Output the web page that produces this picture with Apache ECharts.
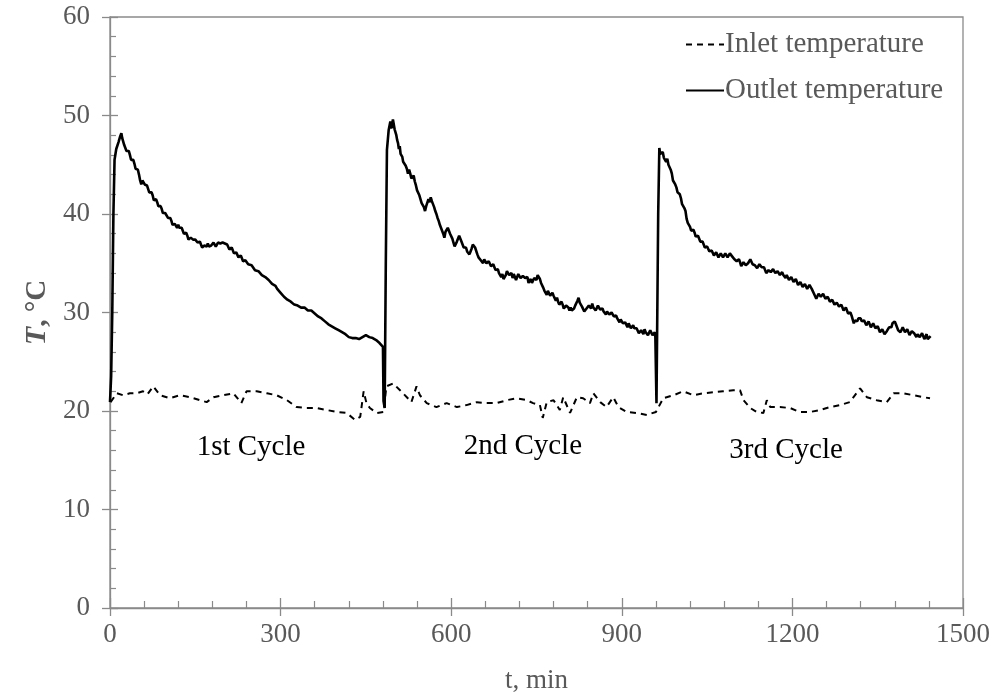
<!DOCTYPE html>
<html>
<head>
<meta charset="utf-8">
<script src="https://cdn.jsdelivr.net/npm/echarts@6/dist/echarts.min.js"></script>
<style>
html,body{margin:0;padding:0;background:#fff;}
#chart{width:999px;height:699px;}
</style>
</head>
<body>
<div id="chart"></div>
<script>
// ---- data: [time (min), temperature (°C)] ----
const outletCycle1 = [
[0,20.9],[2,23.5],[4,30],[6,40],[8,45.5],[11,46.6],[15,47.3],[18,47.9],[20,48.2],[21.5,47.7],[23,47.5],[25,47.0],[27,46.9],[29,46.4],[31,46.2],[33,46.4],[35,46.0],[37,45.5],[39,45.3],[41,45.5],[43,45.1],[45,44.6],[47,44.4],[49,44.5],[51,44.0],[53,43.4],[55,43.0],[57,43.4],[59,43.6],[61,43.0],[63,43.1],[65,42.9],[67,42.7],[69,42.2],[71,42.1],[73,42.2],[75,41.9],[77,41.4],[79,41.5],[81,41.5],[83,41.2],[85,40.8],[87,40.7],[89,40.8],[91,40.5],[93,40.1],[95,40.2],[97,40.1],[99,39.9],[102,39.6],[104,39.5],[106,39.6],[108,39.3],[110,38.9],[112,38.9],[114,39.0],[116,38.8],[118,38.6],[120,38.9],[122,38.6],[124,38.4],[126,38.6],[128,38.4],[130,38.0],[132,37.9],[134,38.1],[136,37.8],[138,37.4],[140,37.3],[142,37.6],[144,37.8],[146,37.4],[148,37.2],[150,37.4],[152,37.6],[154,37.1],[156,37.0],[158,37.2],[160,36.9],[162,36.6],[164,36.6],[166,36.8],[168,36.6],[170,36.7],[172,37.0],[174,36.7],[176,36.5],[178,36.8],[180,36.9],[182,37.1],[184,37.0],[186,36.7],[188,36.8],[190,37.1],[192,37.3],[194,37.0],[196,36.9],[198,37.1],[200,37.2],[202,37.0],[204,36.8],[206,36.9],[208,36.7],[210,36.4],[212,36.4],[214,36.6],[216,36.4],[218,36.0],[220,36.0],[222,36.1],[224,35.9],[226,35.6],[228,35.6],[230,35.8],[232,35.6],[234,35.2],[236,35.2],[238,35.3],[240,35.1],[243,34.9],[246,34.8],[249,34.8],[252,34.6],[255,34.3],[258,34.2],[261,34.2],[264,34.0],[267,33.8],[270,33.7],[273,33.6],[276,33.4],[279,33.3],[282,33.1],[285,32.9],[288,32.8],[291,32.7],[294,32.4],[297,32.2],[300,32.0],[303,31.8],[306,31.6],[309,31.5],[312,31.3],[315,31.1],[318,31.1],[321,30.9],[324,30.8],[327,30.8],[330,30.7],[333,30.5],[336,30.5],[339,30.6],[342,30.5],[345,30.3],[348,30.2],[351,30.3],[354,30.2],[357,30.0],[360,29.9],[363,29.8],[366,29.6],[369,29.5],[372,29.4],[375,29.3],[378,29.1],[381,28.9],[384,28.8],[387,28.7],[390,28.6],[393,28.5],[396,28.4],[399,28.3],[402,28.2],[405,28.1],[408,28.0],[411,27.9],[414,27.8],[417,27.6],[420,27.5],[423,27.4],[426,27.4],[429,27.3],[432,27.4],[435,27.4],[438,27.3],[441,27.4],[444,27.5],[447,27.7],[450,27.7],[453,27.6],[456,27.5],[459,27.5],[462,27.4],[465,27.3],[468,27.2],[471,27.1],[474,26.9],[477,26.7],[480,26.5],[481,21.0],[483,20.3]
];
const outletCycle2 = [
[485,35],[487,46.5],[490,48.5],[493,49.4],[494.5,48.7],[496,49.0],[497.5,49.6],[499,49.5],[500.5,48.6],[502,48.8],[503.5,48.0],[505,47.5],[506.5,47.2],[508,46.6],[509.5,46.9],[511,46.1],[512.5,46.3],[514,45.8],[515.5,45.3],[517,45.2],[518.5,45.5],[520,44.9],[522,44.6],[524,44.1],[526,44.5],[528,44.1],[530,43.6],[532,43.4],[534,43.9],[536,43.3],[538,42.9],[540,42.4],[542,42.6],[544,41.9],[546,41.7],[548,41.1],[550,41.3],[552,40.7],[554,40.3],[556,40.8],[558,41.0],[560,41.5],[562,41.2],[564,41.7],[566,41.3],[568,41.0],[570,40.7],[572,40.3],[574,40.0],[576,39.6],[578,39.3],[580,38.9],[582,38.7],[584,38.3],[586,38.0],[588,37.6],[590,38.2],[592,38.0],[594,38.6],[596,38.5],[598,38.0],[600,37.8],[602,37.5],[604,37.1],[606,36.7],[608,36.8],[610,37.2],[612,37.3],[614,37.8],[616,37.6],[618,37.2],[620,37.0],[622,36.6],[624,36.4],[626,36.6],[628,36.2],[630,36.3],[632,35.9],[634,36.2],[636,36.5],[638,36.9],[640,37.1],[642,36.6],[644,36.4],[646,35.9],[648,35.6],[650,35.8],[652,35.3],[654,35.5],[656,35.0],[658,35.4],[660,35.3],[662,35.0],[664,34.8],[666,35.2],[668,35.1],[670,34.7],[672,34.6],[674,34.9],[676,34.6],[678,34.3],[680,34.2],[682,34.4],[684,34.0],[686,33.8],[688,33.6],[690,33.9],[692,33.4],[694,33.6],[696,33.8],[698,34.2],[700,34.1],[702,33.8],[704,33.7],[706,34.0],[708,33.5],[710,33.9],[712,33.7],[714,33.3],[716,33.4],[718,33.9],[720,33.7],[722,33.5],[724,33.3],[726,33.7],[728,33.8],[730,33.5],[732,33.3],[734,33.6],[736,33.0],[738,33.2],[740,33.4],[742,33.0],[744,33.1],[746,33.5],[748,33.6],[750,33.3],[752,33.8],[754,33.7],[756,33.4],[758,33.0],[760,32.8],[762,32.5],[764,32.2],[766,32.3],[768,31.8],[770,32.2],[772,32.1],[774,31.7],[776,31.8],[778,32.0],[780,31.7],[782,31.5],[784,31.2],[786,31.5],[788,31.1],[790,30.8],[792,30.8],[794,31.1],[796,30.8],[798,30.4],[800,30.5],[802,30.7],[804,30.9],[806,30.5],[808,30.2],[810,30.5],[812,30.2],[814,30.0],[816,30.4],[818,30.7],[820,30.8],[822,31.2],[824,31.5],[826,31.0],[828,30.9],[830,30.6],[832,30.4],[834,30.1],[836,30.0],[838,30.4],[840,30.3],[842,30.7],[844,30.6],[846,30.4],[848,30.9],[850,30.5],[852,30.6],[854,30.2],[856,30.4],[858,30.7],[860,30.6],[862,30.3],[864,30.2],[866,30.4],[868,30.1],[870,29.9],[872,29.8],[874,30.1],[876,30.2],[878,29.8],[880,29.7],[882,30.0],[884,29.9],[886,29.6],[888,29.5],[890,29.7],[892,29.4],[894,29.2],[896,29.0],[898,29.3],[900,29.1],[902,28.9],[904,28.7],[906,29.0],[908,28.8],[910,28.5],[912,28.9],[914,28.7],[916,28.4],[918,28.6],[920,28.7],[922,28.4],[924,28.2],[926,28.4],[928,28.2],[930,27.9],[932,27.8],[934,28.2],[936,28.1],[938,27.8],[940,28.3],[942,28.0],[944,28.1],[946,27.7],[948,27.8],[950,28.2],[952,28.1],[954,27.7],[956,27.7],[958,28.0],[959,27.5],[961,20.8]
];
const outletCycle3 = [
[964,40],[966,46.7],[967.5,46.1],[969,46.3],[970.5,45.9],[972,46.3],[974,45.7],[976,45.9],[978,45.3],[980,45.6],[982,45.0],[984,44.8],[986,44.5],[988,44.1],[990,43.4],[992,43.2],[994,43.0],[996,42.7],[998,42.2],[1000,42.0],[1002,42.0],[1004,41.6],[1006,41.0],[1008,40.8],[1010,40.6],[1012,40.3],[1014,39.5],[1016,39.1],[1018,38.9],[1020,38.7],[1022,38.3],[1024,38.2],[1026,38.4],[1028,38.1],[1030,37.7],[1032,37.5],[1034,37.8],[1036,37.6],[1038,37.2],[1040,37.0],[1042,37.2],[1044,36.9],[1046,36.6],[1048,36.4],[1050,36.7],[1052,36.5],[1054,36.2],[1056,36.0],[1058,36.3],[1060,36.1],[1062,35.8],[1064,35.8],[1066,36.1],[1068,35.9],[1070,35.6],[1072,35.7],[1074,36.0],[1076,35.9],[1078,35.6],[1080,35.6],[1082,36.0],[1084,35.9],[1086,35.6],[1088,35.7],[1090,36.0],[1092,36.1],[1094,35.7],[1096,35.8],[1098,35.4],[1100,35.5],[1102,35.2],[1104,35.0],[1106,35.4],[1108,35.1],[1110,34.7],[1112,34.8],[1114,35.1],[1116,35.2],[1118,34.8],[1120,34.7],[1122,35.0],[1124,35.1],[1126,35.4],[1128,35.3],[1130,34.9],[1132,35.1],[1134,34.8],[1136,34.9],[1138,34.5],[1140,34.6],[1142,34.9],[1144,34.9],[1146,34.6],[1148,34.4],[1150,34.6],[1152,34.3],[1154,34.0],[1156,33.9],[1158,34.3],[1160,34.4],[1162,34.1],[1164,34.0],[1166,34.4],[1168,34.3],[1170,34.0],[1172,33.9],[1174,34.2],[1176,34.0],[1178,33.8],[1180,33.9],[1182,34.1],[1184,33.8],[1186,33.6],[1188,33.5],[1190,33.8],[1192,33.6],[1194,33.3],[1196,33.3],[1198,33.6],[1200,33.4],[1202,33.1],[1204,33.1],[1206,33.4],[1208,33.1],[1210,32.8],[1212,32.9],[1214,33.1],[1216,32.9],[1218,32.6],[1220,32.6],[1222,32.9],[1224,32.7],[1226,32.4],[1228,32.4],[1230,32.8],[1232,32.7],[1234,32.4],[1236,32.3],[1238,31.9],[1240,31.8],[1242,31.4],[1244,31.5],[1246,31.9],[1248,32.0],[1250,31.6],[1252,31.7],[1254,31.9],[1256,31.7],[1258,31.4],[1260,31.3],[1262,31.6],[1264,31.4],[1266,31.1],[1268,31.1],[1270,31.3],[1272,31.1],[1274,30.8],[1276,30.8],[1278,31.0],[1280,30.9],[1282,30.6],[1284,30.5],[1286,30.8],[1288,30.5],[1290,30.2],[1292,30.2],[1294,30.5],[1296,30.2],[1298,29.9],[1300,29.8],[1302,30.0],[1304,29.7],[1306,29.3],[1308,28.9],[1310,29.2],[1312,29.4],[1314,29.1],[1316,29.4],[1318,29.6],[1320,29.4],[1322,29.1],[1324,28.9],[1326,29.2],[1328,29.0],[1330,28.7],[1332,28.8],[1334,29.1],[1336,28.9],[1338,28.5],[1340,28.6],[1342,28.9],[1344,28.7],[1346,28.4],[1348,28.3],[1350,28.6],[1352,28.3],[1354,28.0],[1356,28.0],[1358,28.3],[1360,28.1],[1362,27.8],[1364,27.8],[1366,28.1],[1368,28.2],[1370,28.5],[1372,28.6],[1374,28.5],[1376,28.9],[1378,28.7],[1380,29.1],[1382,28.8],[1384,28.6],[1386,28.2],[1388,28.4],[1390,28.0],[1392,28.1],[1394,28.5],[1396,28.4],[1398,28.0],[1400,28.1],[1402,28.3],[1404,28.1],[1406,27.7],[1408,27.8],[1410,28.1],[1412,28.2],[1414,27.9],[1416,27.8],[1418,27.5],[1420,27.8],[1422,27.9],[1424,27.5],[1426,27.4],[1428,27.9],[1430,27.6],[1432,27.3],[1434,27.5],[1436,27.8],[1438,27.3],[1440,27.4],[1443,27.6]
];
const inletCycle1 = [
[1,20.9],[12,21.8],[23,21.6],[35,21.8],[47,21.8],[58,22.0],[66,21.7],[76,22.5],[88,21.6],[105,21.3],[123,21.6],[141,21.4],[158,21.1],[170,20.9],[182,21.4],[199,21.6],[217,21.8],[231,20.8],[240,22.0],[258,22.0],[276,21.8],[293,21.6],[311,21.1],[328,20.4],[346,20.3],[363,20.3],[381,20.1],[399,19.9],[416,19.8],[431,19.1],[440,19.4],[446,22.0],[451,20.8],[457,20.3],[469,19.8],[481,19.9]
];
const inletCycle2 = [
[486,22.5],[498,22.8],[510,22.1],[522,21.4],[530,20.9],[539,22.5],[545,21.6],[557,20.8],[574,20.4],[592,20.8],[610,20.4],[627,20.6],[645,20.9],[662,20.8],[680,20.8],[698,21.1],[715,21.3],[733,21.1],[744,20.8],[756,20.6],[761,19.3],[768,20.9],[780,21.1],[791,20.1],[797,21.4],[809,19.8],[821,21.4],[832,21.3],[844,20.8],[850,21.8],[862,20.9],[873,20.4],[885,21.4],[894,20.4],[909,19.9],[926,19.8],[944,19.6],[960,19.9]
];
const inletCycle3 = [
[973,21.3],[991,21.6],[1008,22.0],[1026,21.6],[1043,21.8],[1061,21.9],[1078,22.0],[1096,22.1],[1108,22.1],[1114,21.1],[1126,20.3],[1137,19.9],[1149,19.8],[1155,21.1],[1161,20.4],[1178,20.4],[1196,20.3],[1213,19.9],[1231,19.9],[1249,20.1],[1266,20.4],[1284,20.6],[1301,20.9],[1319,22.3],[1331,21.4],[1348,21.1],[1366,20.9],[1378,21.8],[1395,21.8],[1413,21.6],[1430,21.4],[1442,21.3]
];
const xTicks = {min: 0, max: 1500, step: 300};
const yTicks = {min: 0, max: 60, step: 10};
const seriesNames = ['Inlet temperature', 'Outlet temperature'];
const cycleLabels = [
  {text: '1st Cycle', t: 248, T: 16.3},
  {text: '2nd Cycle', t: 726, T: 16.4},
  {text: '3rd Cycle', t: 1189, T: 16.0}
];

const outletData = outletCycle1.concat(outletCycle2, outletCycle3);
const inletData = inletCycle1.concat(inletCycle2, inletCycle3);

const FONT = '"Liberation Serif", "Times New Roman", serif';
const GREY = '#595959';
const AXIS = '#8a8a8a';

const chart = echarts.init(document.getElementById('chart'), null, {renderer: 'canvas'});

const commonAxisLine = {show: true, lineStyle: {color: AXIS, width: 1.3}};

chart.setOption({
  animation: false,
  backgroundColor: '#fff',
  grid: {left: 110, right: 36, top: 17, bottom: 91, show: true, borderColor: AXIS, borderWidth: 1.3, containLabel: false},
  legend: {
    orient: 'vertical', left: 680, top: 25, itemWidth: 38, itemHeight: 14, itemGap: 17,
    data: seriesNames,
    itemStyle: {opacity: 0},
    textStyle: {fontFamily: FONT, fontSize: 29, color: GREY, padding: [0,0,0,-4]},
    selectedMode: false
  },
  xAxis: [
    {type: 'value', min: xTicks.min, max: xTicks.max, interval: xTicks.step,
     name: 't, min', nameLocation: 'middle', nameGap: 59,
     nameTextStyle: {fontFamily: FONT, fontSize: 27, color: GREY},
     axisLine: commonAxisLine, splitLine: {show: false},
     axisTick: {show: true, inside: false, length: 8, lineStyle: {color: AXIS, width: 1.3}},
     axisLabel: {fontFamily: FONT, fontSize: 27, color: GREY, margin: 13, formatter: v => String(v)}},
    {type: 'value', min: xTicks.min, max: xTicks.max, interval: xTicks.step, position: 'bottom',
     axisLine: {show: false}, splitLine: {show: false}, axisLabel: {show: false},
     axisTick: {show: true, inside: true, length: 10, lineStyle: {color: AXIS, width: 1.3}},
     minorTick: {show: true, splitNumber: 5, length: 7, lineStyle: {color: AXIS, width: 1.2}}}
  ],
  yAxis: [
    {type: 'value', min: yTicks.min, max: yTicks.max, interval: yTicks.step,
     name: '{b|T}{n|, °C}', nameLocation: 'middle', nameGap: 54,
     nameTextStyle: {fontFamily: FONT, fontSize: 29, color: GREY,
       rich: {b: {fontFamily: FONT, fontSize: 30, fontWeight: 'bold', fontStyle: 'italic', color: GREY},
              n: {fontFamily: FONT, fontSize: 29, fontWeight: 'bold', color: GREY}}},
     axisLine: commonAxisLine, splitLine: {show: false},
     axisTick: {show: true, inside: false, length: 8, lineStyle: {color: AXIS, width: 1.3}},
     axisLabel: {fontFamily: FONT, fontSize: 27, color: GREY, margin: 20, formatter: v => String(v)}},
    {type: 'value', min: yTicks.min, max: yTicks.max, interval: yTicks.step, position: 'left',
     axisLine: {show: false}, splitLine: {show: false}, axisLabel: {show: false},
     axisTick: {show: true, inside: true, length: 8, lineStyle: {color: AXIS, width: 1.3}},
     minorTick: {show: true, splitNumber: 5, length: 6, lineStyle: {color: AXIS, width: 1.2}}}
  ],
  series: [
    {name: seriesNames[0], type: 'line', data: inletData, xAxisIndex: 0, yAxisIndex: 0,
     showSymbol: false, symbol: 'none', smooth: false,
     lineStyle: {color: '#000', width: 2, type: [6, 5]}, itemStyle: {color: '#000'},
     markPoint: {
       symbol: 'circle', symbolSize: 1, silent: true,
       itemStyle: {color: 'rgba(0,0,0,0)'},
       label: {show: true, position: 'inside', formatter: p => p.name, fontFamily: FONT, fontSize: 29, color: '#000'},
       data: cycleLabels.map(c => ({name: c.text, coord: [c.t, c.T]}))
     }},
    {name: seriesNames[1], type: 'line', data: outletData, xAxisIndex: 0, yAxisIndex: 0,
     showSymbol: false, symbol: 'none', smooth: false,
     lineStyle: {color: '#000', width: 2.6}, itemStyle: {color: '#000'}}
  ]
});
</script>
</body>
</html>
